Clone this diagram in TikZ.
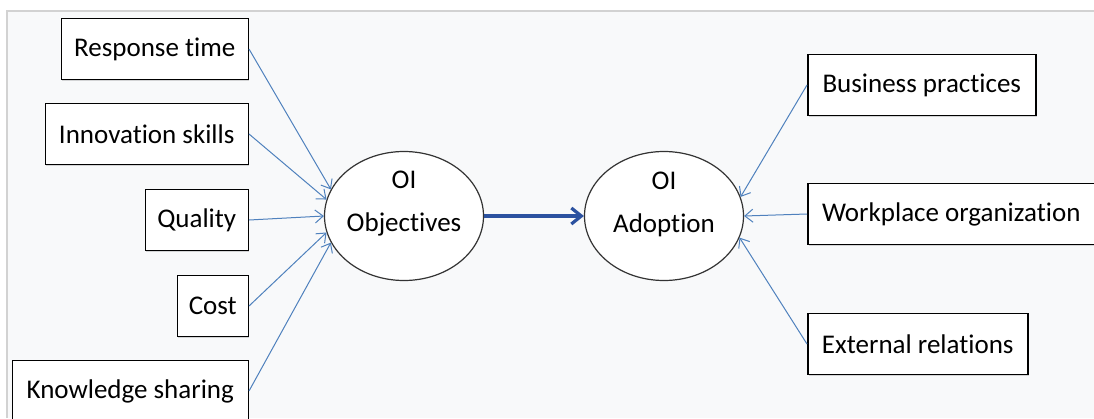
\documentclass[tikz,border=0pt]{standalone}
\usepackage{fontspec}
\setmainfont[Ligatures=NoCommon]{Carlito}
\usepackage{xcolor}
\definecolor{ColLink}{RGB}{79,129,189}
\definecolor{ColMain}{RGB}{44,82,160}
\definecolor{ColFrame}{RGB}{210,210,210}
\definecolor{ColBack}{RGB}{248,249,250}
\usepackage{tikz}
\usetikzlibrary{shapes.geometric}
\usetikzlibrary{arrows.meta}
\usetikzlibrary{shadows}
\tikzstyle{Box}=[draw=black,line width=1.5pt,fill=white,minimum height=61pt,
    inner xsep=2pt,font=\fontsize{27}{32}\selectfont,
    drop shadow={shadow xshift=1.2pt,shadow yshift=-1.2pt,opacity=0.3}]
\tikzstyle{Oval}=[ellipse,draw=black!80,line width=1.2pt,fill=white,
    minimum width=159pt,minimum height=129pt,inner sep=0pt]
\tikzstyle{OvalText}=[align=center,font=\fontsize{27}{43}\selectfont,yshift=12pt]
\tikzstyle{Link}=[ColLink,line width=1pt,-{Straight Barb[length=8pt,width=13pt]}]
\tikzstyle{Map}=[ColMain,line width=3.2pt,-{Straight Barb[length=10pt,width=16pt]}]

\begin{document}
\begin{tikzpicture}[x=1pt,y=-1pt]
        \useasboundingbox(0,0)rectangle(1094,418);
        \fill[ColBack](7,11)rectangle(1094,418);
        \draw[ColFrame,line width=1.5pt](7,418)--(7,11)--(1094,11);
        % left side
        \node[Box,anchor=east,minimum width=187pt](RT)at(249,49){Response time};
        \node[Box,anchor=east,minimum width=203pt](IS)at(249,134){Innovation skills};
        \node[Box,anchor=east,minimum width=103pt](Q)at(249,220){Quality};
        \node[Box,anchor=east,minimum width=71pt](C)at(249,306){Cost};
        \node[Box,anchor=east,minimum width=236pt](KS)at(249,391){Knowledge sharing};
        % the two ovals
        \node[Oval](OO)at(404,216){};
        \node[OvalText](OOt)at(OO){OI\\Objectives};
        \node[Oval](OA)at(664,216){};
        \node[OvalText](OAt)at(OA){OI\\Adoption};
        % right side
        \node[Box,anchor=west,minimum width=228pt](BP)at(807,85){Business practices};
        \node[Box,anchor=west,minimum width=287pt](WO)at(807,214){Workplace organization};
        \node[Box,anchor=west,minimum width=220pt](ER)at(807,344){External relations};
        \draw[Link](RT.east)--(OO.160);
        \draw[Link](IS.east)--(OO.168);
        \draw[Link](Q.east)--(OO.180);
        \draw[Link](C.east)--(OO.192);
        \draw[Link](KS.east)--(OO.200);
        \draw[Map](OO)--(OA);
        \draw[Link](BP.west)--(OA.14);
        \draw[Link](WO.west)--(OA.0);
        \draw[Link](ER.west)--(OA.-16);
    \end{tikzpicture}
\end{document}
